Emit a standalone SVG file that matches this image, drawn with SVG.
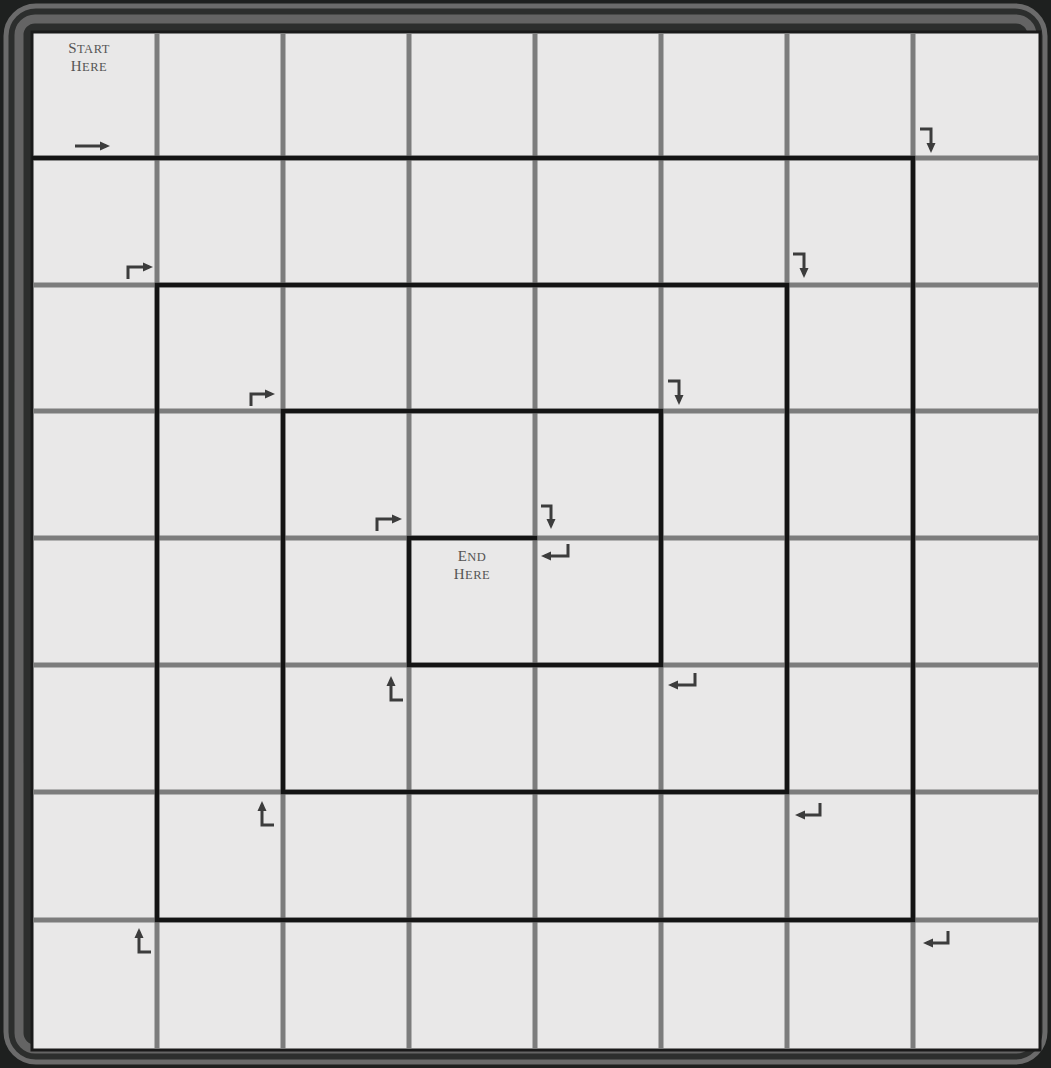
<svg xmlns="http://www.w3.org/2000/svg" width="1051" height="1068" viewBox="0 0 1051 1068">
  <defs>
    <marker id="ah" markerUnits="userSpaceOnUse" markerWidth="10" markerHeight="10" viewBox="0 0 10 10" refX="6" refY="5" orient="auto">
      <path d="M0,0.5 L10,5 L0,9.5 Z" fill="#3c3c3c"/>
    </marker>
    <style>
      .grid { stroke: #7c7c7c; stroke-width: 5; fill: none; }
      .spiral { stroke: #141414; stroke-width: 4.5; fill: none; stroke-linejoin: miter; stroke-linecap: square; }
      .arrow { stroke: #3c3c3c; stroke-width: 3; fill: none; marker-end: url(#ah); }
      .lbl { font-family: "Liberation Serif", "DejaVu Serif", serif; font-size: 12.5px; fill: #555; text-anchor: middle; letter-spacing: 0.5px; }
    </style>
  </defs>
  <g id="frame">
    <rect x="0" y="0" width="1051" height="1068" fill="#1e201f"/>
    <rect x="6" y="6" width="1039" height="1056" rx="30" fill="#2c2e2d" stroke="#6b6b6b" stroke-width="5"/>
    <rect x="19" y="19" width="1013" height="1030" rx="16" fill="none" stroke="#646464" stroke-width="9"/>
    <rect x="32" y="32" width="1008" height="1018" fill="#e9e8e8" stroke="#1a1a1a" stroke-width="3"/>
  </g>
  <g id="grid">
    <path class="grid" d="M157,33 V1049 M283,33 V1049 M409,33 V1049 M535,33 V1049 M661,33 V1049 M787,33 V1049 M913,33 V1049"/>
    <path class="grid" d="M33,158 H1039 M33,285 H1039 M33,411 H1039 M33,538 H1039 M33,665 H1039 M33,792 H1039 M33,920 H1039"/>
  </g>
  <g id="connectors">
    <path id="spiral" class="spiral" d="M34,158 H913 V920 H157 V285 H787 V792 H283 V411 H661 V665 H409 V538 H535"/>
    <path class="arrow" d="M75,146 H106"/>
    <path class="arrow" d="M920,129 H931 V149"/>
    <path class="arrow" d="M793,254 H804 V274"/>
    <path class="arrow" d="M668,381 H679 V401"/>
    <path class="arrow" d="M541,506 H551 V525"/>
    <path class="arrow" d="M128,279 V267 H149"/>
    <path class="arrow" d="M251,406 V394 H271"/>
    <path class="arrow" d="M377,531 V519 H398"/>
    <path class="arrow" d="M568,544 V556 H545"/>
    <path class="arrow" d="M695,673 V685 H672"/>
    <path class="arrow" d="M820,803 V815 H799"/>
    <path class="arrow" d="M948,931 V943 H927"/>
    <path class="arrow" d="M403,700 H391 V680"/>
    <path class="arrow" d="M274,825 H262 V805"/>
    <path class="arrow" d="M151,952 H139 V932"/>
  </g>
  <g id="start">
    <text class="lbl" x="89" y="53"><tspan font-size="15">S</tspan>TART</text>
    <text class="lbl" x="89" y="71"><tspan font-size="15">H</tspan>ERE</text>
  </g>
  <g id="end">
    <text class="lbl" x="472" y="561"><tspan font-size="15">E</tspan>ND</text>
    <text class="lbl" x="472" y="579"><tspan font-size="15">H</tspan>ERE</text>
  </g>
</svg>
